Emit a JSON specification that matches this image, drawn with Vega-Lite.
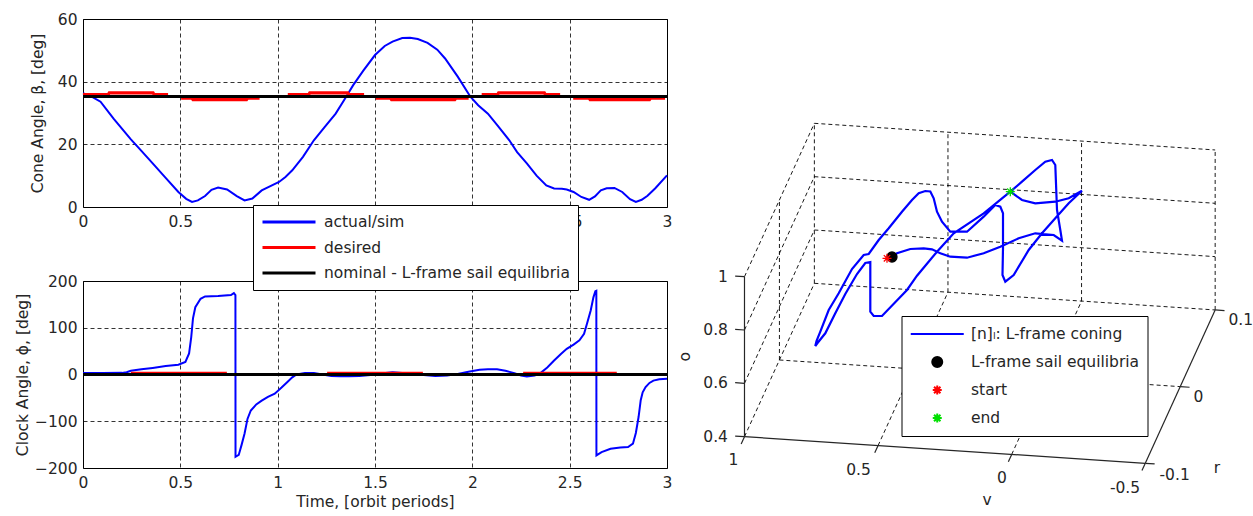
{
"$schema": "https://vega.github.io/schema/vega-lite/v6.json",
"background": "white",
"padding": {"left": 14, "top": 11, "right": 0, "bottom": 0},
"spacing": 3,
"config": {
  "font": "DejaVu Sans",
  "view": {"stroke": "black", "strokeWidth": 1},
  "axis": {"labelFontSize": 15.5, "labelColor": "#262626", "titleFontSize": 15.5, "titleFontWeight": "normal", "titleColor": "#262626", "grid": true, "gridColor": "#000000", "gridOpacity": 1, "gridDash": [4, 3], "gridWidth": 0.8, "domain": false, "ticks": false, "labelPadding": 7, "labelFlush": false, "labelOverlap": false, "labelBound": false},
  "axisY": {"labelPadding": 6},
  "legend": {"labelFontSize": 15.5, "labelColor": "#262626", "labelLimit": 500}
},
"datasets": {
  "beta": [
    {"t": 0, "b": 36.3, "s": "actual/sim"}, {"t": 0.04, "b": 35.4, "s": "actual/sim"}, {"t": 0.09, "b": 33.6, "s": "actual/sim"}, {"t": 0.157, "b": 28.2, "s": "actual/sim"}, {"t": 0.246, "b": 21.6, "s": "actual/sim"}, {"t": 0.3, "b": 17.9, "s": "actual/sim"}, {"t": 0.358, "b": 13.9, "s": "actual/sim"}, {"t": 0.42, "b": 9.6, "s": "actual/sim"}, {"t": 0.49, "b": 4.8, "s": "actual/sim"}, {"t": 0.53, "b": 2.6, "s": "actual/sim"}, {"t": 0.56, "b": 1.6, "s": "actual/sim"}, {"t": 0.59, "b": 2.1, "s": "actual/sim"}, {"t": 0.627, "b": 3.5, "s": "actual/sim"}, {"t": 0.66, "b": 5.5, "s": "actual/sim"}, {"t": 0.694, "b": 6.2, "s": "actual/sim"}, {"t": 0.74, "b": 5.6, "s": "actual/sim"}, {"t": 0.79, "b": 3.5, "s": "actual/sim"}, {"t": 0.83, "b": 2.1, "s": "actual/sim"}, {"t": 0.87, "b": 2.7, "s": "actual/sim"}, {"t": 0.918, "b": 5.3, "s": "actual/sim"}, {"t": 0.96, "b": 6.6, "s": "actual/sim"}, {"t": 1.007, "b": 8.0, "s": "actual/sim"}, {"t": 1.04, "b": 9.6, "s": "actual/sim"}, {"t": 1.075, "b": 11.7, "s": "actual/sim"}, {"t": 1.13, "b": 16.0, "s": "actual/sim"}, {"t": 1.186, "b": 21.3, "s": "actual/sim"}, {"t": 1.24, "b": 25.4, "s": "actual/sim"}, {"t": 1.298, "b": 29.8, "s": "actual/sim"}, {"t": 1.34, "b": 34.0, "s": "actual/sim"}, {"t": 1.388, "b": 38.9, "s": "actual/sim"}, {"t": 1.44, "b": 43.5, "s": "actual/sim"}, {"t": 1.5, "b": 48.5, "s": "actual/sim"}, {"t": 1.55, "b": 51.4, "s": "actual/sim"}, {"t": 1.59, "b": 52.8, "s": "actual/sim"}, {"t": 1.64, "b": 53.9, "s": "actual/sim"}, {"t": 1.68, "b": 54.0, "s": "actual/sim"}, {"t": 1.72, "b": 53.6, "s": "actual/sim"}, {"t": 1.77, "b": 52.4, "s": "actual/sim"}, {"t": 1.82, "b": 50.2, "s": "actual/sim"}, {"t": 1.86, "b": 47.4, "s": "actual/sim"}, {"t": 1.925, "b": 41.6, "s": "actual/sim"}, {"t": 1.99, "b": 35.2, "s": "actual/sim"}, {"t": 2.03, "b": 32.5, "s": "actual/sim"}, {"t": 2.08, "b": 29.8, "s": "actual/sim"}, {"t": 2.13, "b": 26.0, "s": "actual/sim"}, {"t": 2.19, "b": 21.3, "s": "actual/sim"}, {"t": 2.23, "b": 17.5, "s": "actual/sim"}, {"t": 2.28, "b": 13.9, "s": "actual/sim"}, {"t": 2.33, "b": 10.0, "s": "actual/sim"}, {"t": 2.38, "b": 6.9, "s": "actual/sim"}, {"t": 2.42, "b": 5.9, "s": "actual/sim"}, {"t": 2.46, "b": 5.8, "s": "actual/sim"}, {"t": 2.485, "b": 5.6, "s": "actual/sim"}, {"t": 2.52, "b": 4.8, "s": "actual/sim"}, {"t": 2.56, "b": 3.2, "s": "actual/sim"}, {"t": 2.6, "b": 2.3, "s": "actual/sim"}, {"t": 2.63, "b": 3.4, "s": "actual/sim"}, {"t": 2.66, "b": 5.3, "s": "actual/sim"}, {"t": 2.69, "b": 6.0, "s": "actual/sim"}, {"t": 2.73, "b": 6.1, "s": "actual/sim"}, {"t": 2.77, "b": 4.8, "s": "actual/sim"}, {"t": 2.81, "b": 2.5, "s": "actual/sim"}, {"t": 2.84, "b": 1.6, "s": "actual/sim"}, {"t": 2.87, "b": 2.3, "s": "actual/sim"}, {"t": 2.9, "b": 3.6, "s": "actual/sim"}, {"t": 2.94, "b": 6.0, "s": "actual/sim"}, {"t": 3.0, "b": 10.1, "s": "actual/sim"},
    {"t": 0, "b": 35.9, "s": "desired", "g": 1}, {"t": 0.13, "b": 35.9, "s": "desired", "g": 1}, {"t": 0.135, "b": 36.4, "s": "desired", "g": 1}, {"t": 0.36, "b": 36.4, "s": "desired", "g": 1}, {"t": 0.365, "b": 35.9, "s": "desired", "g": 1}, {"t": 0.437, "b": 35.9, "s": "desired", "g": 1},
    {"t": 0.504, "b": 34.7, "s": "desired", "g": 2}, {"t": 0.56, "b": 34.7, "s": "desired", "g": 2}, {"t": 0.565, "b": 34.3, "s": "desired", "g": 2}, {"t": 0.84, "b": 34.3, "s": "desired", "g": 2}, {"t": 0.845, "b": 34.7, "s": "desired", "g": 2}, {"t": 0.907, "b": 34.7, "s": "desired", "g": 2},
    {"t": 1.052, "b": 35.9, "s": "desired", "g": 3}, {"t": 1.16, "b": 35.9, "s": "desired", "g": 3}, {"t": 1.165, "b": 36.4, "s": "desired", "g": 3}, {"t": 1.36, "b": 36.4, "s": "desired", "g": 3}, {"t": 1.365, "b": 35.9, "s": "desired", "g": 3}, {"t": 1.444, "b": 35.9, "s": "desired", "g": 3},
    {"t": 1.504, "b": 34.7, "s": "desired", "g": 4}, {"t": 1.58, "b": 34.7, "s": "desired", "g": 4}, {"t": 1.585, "b": 34.3, "s": "desired", "g": 4}, {"t": 1.91, "b": 34.3, "s": "desired", "g": 4}, {"t": 1.915, "b": 34.7, "s": "desired", "g": 4}, {"t": 1.981, "b": 34.7, "s": "desired", "g": 4},
    {"t": 2.048, "b": 35.9, "s": "desired", "g": 5}, {"t": 2.13, "b": 35.9, "s": "desired", "g": 5}, {"t": 2.135, "b": 36.4, "s": "desired", "g": 5}, {"t": 2.37, "b": 36.4, "s": "desired", "g": 5}, {"t": 2.375, "b": 35.9, "s": "desired", "g": 5}, {"t": 2.451, "b": 35.9, "s": "desired", "g": 5},
    {"t": 2.518, "b": 34.7, "s": "desired", "g": 6}, {"t": 2.6, "b": 34.7, "s": "desired", "g": 6}, {"t": 2.605, "b": 34.3, "s": "desired", "g": 6}, {"t": 2.91, "b": 34.3, "s": "desired", "g": 6}, {"t": 2.915, "b": 34.7, "s": "desired", "g": 6}, {"t": 2.99, "b": 34.7, "s": "desired", "g": 6},
    {"t": 0, "b": 35.26, "s": "nominal - L-frame sail equilibria"}, {"t": 3, "b": 35.26, "s": "nominal - L-frame sail equilibria"}
  ],
  "phi": [
    {"t": 0, "p": 3, "s": "actual/sim"}, {"t": 0.1, "p": 3, "s": "actual/sim"}, {"t": 0.2, "p": 3.5, "s": "actual/sim"}, {"t": 0.224, "p": 5, "s": "actual/sim"}, {"t": 0.246, "p": 8, "s": "actual/sim"}, {"t": 0.3, "p": 11, "s": "actual/sim"}, {"t": 0.358, "p": 14, "s": "actual/sim"}, {"t": 0.425, "p": 18, "s": "actual/sim"}, {"t": 0.49, "p": 21, "s": "actual/sim"}, {"t": 0.526, "p": 27, "s": "actual/sim"}, {"t": 0.545, "p": 45, "s": "actual/sim"}, {"t": 0.556, "p": 80, "s": "actual/sim"}, {"t": 0.565, "p": 120, "s": "actual/sim"}, {"t": 0.577, "p": 144, "s": "actual/sim"}, {"t": 0.604, "p": 162, "s": "actual/sim"}, {"t": 0.627, "p": 167, "s": "actual/sim"}, {"t": 0.694, "p": 168, "s": "actual/sim"}, {"t": 0.76, "p": 170, "s": "actual/sim"}, {"t": 0.775, "p": 174, "s": "actual/sim"}, {"t": 0.783, "p": 170, "s": "actual/sim"}, {"t": 0.7835, "p": -176, "s": "actual/sim"}, {"t": 0.8, "p": -172, "s": "actual/sim"}, {"t": 0.815, "p": -150, "s": "actual/sim"}, {"t": 0.83, "p": -126, "s": "actual/sim"}, {"t": 0.845, "p": -95, "s": "actual/sim"}, {"t": 0.862, "p": -77, "s": "actual/sim"}, {"t": 0.89, "p": -64, "s": "actual/sim"}, {"t": 0.918, "p": -56, "s": "actual/sim"}, {"t": 0.95, "p": -48, "s": "actual/sim"}, {"t": 0.985, "p": -41, "s": "actual/sim"}, {"t": 1.02, "p": -28, "s": "actual/sim"}, {"t": 1.05, "p": -16, "s": "actual/sim"}, {"t": 1.075, "p": -6, "s": "actual/sim"}, {"t": 1.097, "p": 0, "s": "actual/sim"}, {"t": 1.14, "p": 3, "s": "actual/sim"}, {"t": 1.186, "p": 3, "s": "actual/sim"}, {"t": 1.23, "p": 0, "s": "actual/sim"}, {"t": 1.276, "p": -3, "s": "actual/sim"}, {"t": 1.32, "p": -4, "s": "actual/sim"}, {"t": 1.366, "p": -4, "s": "actual/sim"}, {"t": 1.42, "p": -3, "s": "actual/sim"}, {"t": 1.477, "p": -1, "s": "actual/sim"}, {"t": 1.53, "p": 2, "s": "actual/sim"}, {"t": 1.59, "p": 5, "s": "actual/sim"}, {"t": 1.64, "p": 3, "s": "actual/sim"}, {"t": 1.7, "p": 1, "s": "actual/sim"}, {"t": 1.75, "p": -1, "s": "actual/sim"}, {"t": 1.81, "p": -3, "s": "actual/sim"}, {"t": 1.87, "p": -2, "s": "actual/sim"}, {"t": 1.925, "p": 1, "s": "actual/sim"}, {"t": 1.98, "p": 6, "s": "actual/sim"}, {"t": 2.037, "p": 10, "s": "actual/sim"}, {"t": 2.08, "p": 11, "s": "actual/sim"}, {"t": 2.127, "p": 11, "s": "actual/sim"}, {"t": 2.17, "p": 8, "s": "actual/sim"}, {"t": 2.216, "p": 3, "s": "actual/sim"}, {"t": 2.25, "p": -2, "s": "actual/sim"}, {"t": 2.28, "p": -4, "s": "actual/sim"}, {"t": 2.32, "p": -2, "s": "actual/sim"}, {"t": 2.35, "p": 3, "s": "actual/sim"}, {"t": 2.385, "p": 15, "s": "actual/sim"}, {"t": 2.42, "p": 30, "s": "actual/sim"}, {"t": 2.455, "p": 44, "s": "actual/sim"}, {"t": 2.485, "p": 55, "s": "actual/sim"}, {"t": 2.52, "p": 64, "s": "actual/sim"}, {"t": 2.55, "p": 73, "s": "actual/sim"}, {"t": 2.574, "p": 87, "s": "actual/sim"}, {"t": 2.59, "p": 110, "s": "actual/sim"}, {"t": 2.608, "p": 137, "s": "actual/sim"}, {"t": 2.622, "p": 165, "s": "actual/sim"}, {"t": 2.632, "p": 178, "s": "actual/sim"}, {"t": 2.637, "p": 179, "s": "actual/sim"}, {"t": 2.6375, "p": -173, "s": "actual/sim"}, {"t": 2.664, "p": -166, "s": "actual/sim"}, {"t": 2.71, "p": -159, "s": "actual/sim"}, {"t": 2.76, "p": -156, "s": "actual/sim"}, {"t": 2.8, "p": -155, "s": "actual/sim"}, {"t": 2.825, "p": -148, "s": "actual/sim"}, {"t": 2.84, "p": -125, "s": "actual/sim"}, {"t": 2.854, "p": -91, "s": "actual/sim"}, {"t": 2.865, "p": -55, "s": "actual/sim"}, {"t": 2.875, "p": -38, "s": "actual/sim"}, {"t": 2.89, "p": -27, "s": "actual/sim"}, {"t": 2.91, "p": -18, "s": "actual/sim"}, {"t": 2.93, "p": -13, "s": "actual/sim"}, {"t": 2.96, "p": -10, "s": "actual/sim"}, {"t": 3.0, "p": -9, "s": "actual/sim"},
    {"t": 0.246, "p": 2.5, "s": "desired", "g": 1}, {"t": 0.739, "p": 2.5, "s": "desired", "g": 1},
    {"t": 1.254, "p": 2.5, "s": "desired", "g": 2}, {"t": 1.746, "p": 2.5, "s": "desired", "g": 2},
    {"t": 2.261, "p": 2.5, "s": "desired", "g": 3}, {"t": 2.742, "p": 2.5, "s": "desired", "g": 3},
    {"t": 0, "p": 0, "s": "nominal - L-frame sail equilibria"}, {"t": 3, "p": 0, "s": "nominal - L-frame sail equilibria"}
  ],
  "grid3d": [
    {"h": 0.262, "k": 0.975, "h2": 1.765, "k2": 0.8751}, {"h": 0.262, "k": 1.175, "h2": 1.765, "k2": 1.0751}, {"h": 0.262, "k": 1.375, "h2": 1.765, "k2": 1.2751}, {"h": 0.262, "k": 1.575, "h2": 1.765, "k2": 1.4751},
    {"h": 0.262, "k": 0.975, "h2": 0.262, "k2": 1.575}, {"h": 0.763, "k": 0.9417, "h2": 0.763, "k2": 1.5417}, {"h": 1.264, "k": 0.9084, "h2": 1.264, "k2": 1.5084}, {"h": 1.765, "k": 0.8751, "h2": 1.765, "k2": 1.4751},
    {"h": 0, "k": 0.6, "h2": 0.262, "k2": 1.175}, {"h": 0, "k": 0.8, "h2": 0.262, "k2": 1.375}, {"h": 0, "k": 1, "h2": 0.262, "k2": 1.575}, {"h": 0.131, "k": 0.6875, "h2": 0.131, "k2": 1.2875},
    {"h": 0, "k": 0.4, "h2": 0.262, "k2": 0.975}, {"h": 0.501, "k": 0.3667, "h2": 0.763, "k2": 0.9417}, {"h": 1.002, "k": 0.3334, "h2": 1.264, "k2": 0.9084}, {"h": 0.131, "k": 0.6875, "h2": 1.634, "k2": 0.5876}
  ],
  "axes3d": [
    {"h": 0, "k": 0.4, "h2": 0, "k2": 1}, {"h": 0, "k": 0.4, "h2": 1.503, "k2": 0.3001}, {"h": 1.503, "k": 0.3001, "h2": 1.765, "k2": 0.8751},
    {"h": 0, "k": 0.4, "h2": -0.035, "k2": 0.4023}, {"h": 0, "k": 0.6, "h2": -0.035, "k2": 0.6023}, {"h": 0, "k": 0.8, "h2": -0.035, "k2": 0.8023}, {"h": 0, "k": 1, "h2": -0.035, "k2": 1.0023},
    {"h": 0, "k": 0.4, "h2": -0.0125, "k2": 0.3727}, {"h": 0.501, "k": 0.3667, "h2": 0.4885, "k2": 0.3394}, {"h": 1.002, "k": 0.3334, "h2": 0.9895, "k2": 0.3061}, {"h": 1.503, "k": 0.3001, "h2": 1.4905, "k2": 0.2728},
    {"h": 1.503, "k": 0.3001, "h2": 1.538, "k2": 0.2978}, {"h": 1.634, "k": 0.5876, "h2": 1.669, "k2": 0.5853}, {"h": 1.765, "k": 0.8751, "h2": 1.8, "k2": 0.8728}
  ],
  "curve": [
    {"i": 1, "h": 0.5513, "k": 1.0737}, {"i": 2, "h": 0.5719, "k": 1.0876}, {"i": 3, "h": 0.6218, "k": 1.1037}, {"i": 4, "h": 0.672, "k": 1.1064}, {"i": 5, "h": 0.7031, "k": 1.1026}, {"i": 6, "h": 0.7343, "k": 1.0876}, {"i": 7, "h": 0.7718, "k": 1.0749}, {"i": 8, "h": 0.8344, "k": 1.0711}, {"i": 9, "h": 0.897, "k": 1.0876}, {"i": 10, "h": 0.9593, "k": 1.1124},
    {"i": 11, "h": 1.0283, "k": 1.1439}, {"i": 12, "h": 1.0905, "k": 1.1626}, {"i": 13, "h": 1.1595, "k": 1.1562}, {"i": 14, "h": 1.1906, "k": 1.1349}, {"i": 15, "h": 1.1843, "k": 1.175}, {"i": 16, "h": 1.1719, "k": 1.25}, {"i": 17, "h": 1.1681, "k": 1.3501}, {"i": 18, "h": 1.1655, "k": 1.4187}, {"i": 19, "h": 1.1531, "k": 1.4375}, {"i": 20, "h": 1.128, "k": 1.4311},
    {"i": 21, "h": 1.0905, "k": 1.4}, {"i": 22, "h": 1.0406, "k": 1.3561}, {"i": 23, "h": 0.9968, "k": 1.3186}, {"i": 24, "h": 0.897, "k": 1.2376}, {"i": 25, "h": 0.7845, "k": 1.1626}, {"i": 26, "h": 0.7219, "k": 1.0936}, {"i": 27, "h": 0.6469, "k": 1.0036}, {"i": 28, "h": 0.6094, "k": 0.95}, {"i": 29, "h": 0.5156, "k": 0.8525}, {"i": 30, "h": 0.4845, "k": 0.8525},
    {"i": 31, "h": 0.4718, "k": 0.8686}, {"i": 32, "h": 0.4718, "k": 1.055}, {"i": 33, "h": 0.453, "k": 1.0512}, {"i": 34, "h": 0.4219, "k": 1.01}, {"i": 35, "h": 0.378, "k": 0.935}, {"i": 36, "h": 0.3405, "k": 0.8626}, {"i": 37, "h": 0.303, "k": 0.7876}, {"i": 38, "h": 0.2738, "k": 0.7512}, {"i": 39, "h": 0.2655, "k": 0.74}, {"i": 40, "h": 0.27, "k": 0.7587},
    {"i": 41, "h": 0.2843, "k": 0.7936}, {"i": 42, "h": 0.3158, "k": 0.875}, {"i": 43, "h": 0.3533, "k": 0.9376}, {"i": 44, "h": 0.4031, "k": 1.0287}, {"i": 45, "h": 0.447, "k": 1.0812}, {"i": 46, "h": 0.4658, "k": 1.085}, {"i": 47, "h": 0.5033, "k": 1.1375}, {"i": 48, "h": 0.5408, "k": 1.1814}, {"i": 49, "h": 0.5906, "k": 1.2436}, {"i": 50, "h": 0.6281, "k": 1.2875},
    {"i": 51, "h": 0.6533, "k": 1.3126}, {"i": 52, "h": 0.678, "k": 1.3212}, {"i": 53, "h": 0.6968, "k": 1.3194}, {"i": 54, "h": 0.7095, "k": 1.2939}, {"i": 55, "h": 0.7219, "k": 1.2436}, {"i": 56, "h": 0.7406, "k": 1.2061}, {"i": 57, "h": 0.7718, "k": 1.1686}, {"i": 58, "h": 0.8344, "k": 1.1686}, {"i": 59, "h": 0.897, "k": 1.2249}, {"i": 60, "h": 0.9405, "k": 1.2687},
    {"i": 61, "h": 0.9593, "k": 1.2624}, {"i": 62, "h": 0.9694, "k": 1.2376}, {"i": 63, "h": 0.9694, "k": 1.1064}, {"i": 64, "h": 0.9675, "k": 1.0062}, {"i": 65, "h": 0.978, "k": 0.9811}, {"i": 66, "h": 1.0095, "k": 1.0062}, {"i": 67, "h": 1.0658, "k": 1.1}, {"i": 68, "h": 1.1156, "k": 1.1626}, {"i": 69, "h": 1.1655, "k": 1.2189}, {"i": 70, "h": 1.2158, "k": 1.2751},
    {"i": 71, "h": 1.2656, "k": 1.3224}, {"i": 72, "h": 1.2158, "k": 1.2939}, {"i": 73, "h": 1.1655, "k": 1.2811}, {"i": 74, "h": 1.0905, "k": 1.2751}, {"i": 75, "h": 1.0406, "k": 1.2875}, {"i": 76, "h": 0.9968, "k": 1.3186}
  ],
  "marks3d": [
    {"h": 0.5531, "k": 1.0737, "item": "L-frame sail equilibria"},
    {"h": 0.5344, "k": 1.0688, "item": "start"},
    {"h": 0.9968, "k": 1.3186, "item": "end"}
  ],
  "zlabels": [
    {"h": -0.062, "k": 1, "txt": "1"}, {"h": -0.062, "k": 0.8, "txt": "0.8"}, {"h": -0.062, "k": 0.6, "txt": "0.6"}, {"h": -0.062, "k": 0.4, "txt": "0.4"}
  ],
  "labels3d": [
    {"h": -0.041, "k": 0.3125, "txt": "1"}, {"h": 0.4275, "k": 0.275, "txt": "0.5"}, {"h": 0.965, "k": 0.2438, "txt": "0"}, {"h": 1.427, "k": 0.2063, "txt": "-0.5"}, {"h": 0.91, "k": 0.1625, "txt": "v"},
    {"h": 1.613, "k": 0.2562, "txt": "-0.1"}, {"h": 1.7025, "k": 0.55, "txt": "0"}, {"h": 1.861, "k": 0.8375, "txt": "0.1"}, {"h": 1.7715, "k": 0.2812, "txt": "r"}
  ],
  "otitle": [{"h": -0.223, "k": 0.7, "txt": "o"}]
},
"resolve": {
  "scale": {"color": "independent", "fill": "independent", "stroke": "independent", "shape": "independent"},
  "legend": {"color": "independent", "fill": "independent", "stroke": "independent", "shape": "independent"}
},
"hconcat": [
  {
    "spacing": 74,
    "bounds": "flush",
    "resolve": {"scale": {"color": "independent"}, "legend": {"color": "independent"}},
    "vconcat": [
      {
        "width": 584, "height": 188,
        "data": {"name": "beta"},
        "encoding": {
          "x": {"field": "t", "type": "quantitative", "scale": {"domain": [0, 3], "nice": false}, "axis": {"values": [0, 0.5, 1, 1.5, 2, 2.5, 3], "format": "~g", "title": null}},
          "y": {"field": "b", "type": "quantitative", "scale": {"domain": [0, 60], "nice": false}, "axis": {"values": [0, 20, 40, 60], "title": "Cone Angle, β, [deg]", "titleX": -46, "titleBaseline": "middle"}},
          "color": {"field": "s", "type": "nominal", "scale": {"domain": ["actual/sim", "desired", "nominal - L-frame sail equilibria"], "range": ["#0000ff", "#ff0000", "#000000"]}, "legend": null},
          "detail": {"field": "g"}
        },
        "layer": [
          {"transform": [{"filter": "datum.s === 'actual/sim'"}], "mark": {"type": "line", "strokeWidth": 2}},
          {"transform": [{"filter": "datum.s === 'desired'"}], "mark": {"type": "line", "strokeWidth": 3.2}},
          {"transform": [{"filter": "datum.s === 'nominal - L-frame sail equilibria'"}], "mark": {"type": "line", "strokeWidth": 3}}
        ]
      },
      {
        "width": 584, "height": 187,
        "data": {"name": "phi"},
        "encoding": {
          "x": {"field": "t", "type": "quantitative", "scale": {"domain": [0, 3], "nice": false}, "axis": {"values": [0, 0.5, 1, 1.5, 2, 2.5, 3], "format": "~g", "title": "Time, [orbit periods]", "titlePadding": 4}},
          "y": {"field": "p", "type": "quantitative", "scale": {"domain": [-200, 200], "nice": false}, "axis": {"values": [-200, -100, 0, 100, 200], "title": "Clock Angle, ϕ, [deg]", "titleX": -61, "titleBaseline": "middle"}},
          "color": {"field": "s", "type": "nominal", "scale": {"domain": ["actual/sim", "desired", "nominal - L-frame sail equilibria"], "range": ["#0000ff", "#ff0000", "#000000"]},
            "legend": {"orient": "none", "legendX": 170, "legendY": -76, "title": null, "fillColor": "white", "strokeColor": "black", "padding": 8, "symbolType": "stroke", "symbolSize": 2809, "symbolStrokeWidth": 3, "clipHeight": 18, "rowPadding": 7.5, "labelOffset": 7, "labelFontSize": 15.5, "labelLimit": 500}},
          "detail": {"field": "g"}
        },
        "layer": [
          {"transform": [{"filter": "datum.s === 'actual/sim'"}], "mark": {"type": "line", "strokeWidth": 2}},
          {"transform": [{"filter": "datum.s === 'desired'"}], "mark": {"type": "line", "strokeWidth": 3.2}},
          {"transform": [{"filter": "datum.s === 'nominal - L-frame sail equilibria'"}], "mark": {"type": "line", "strokeWidth": 3}}
        ]
      }
    ]
  },
  {
    "width": 578, "height": 497,
    "view": {"stroke": null},
    "encoding": {
      "x": {"field": "h", "type": "quantitative", "scale": {"domain": [-0.2531, 1.9144], "nice": false, "zero": false}, "axis": null},
      "y": {"field": "k", "type": "quantitative", "scale": {"domain": [0.1025, 1.9662], "nice": false, "zero": false}, "axis": null}
    },
    "layer": [
      {"data": {"name": "grid3d"}, "mark": {"type": "rule", "strokeDash": [4, 3], "color": "#000000", "strokeWidth": 0.9}, "encoding": {"x2": {"field": "h2"}, "y2": {"field": "k2"}}},
      {"data": {"name": "axes3d"}, "mark": {"type": "rule", "color": "#262626", "strokeWidth": 1.2}, "encoding": {"x2": {"field": "h2"}, "y2": {"field": "k2"}}},
      {"data": {"name": "curve"}, "mark": {"type": "line", "color": "#0000ff", "strokeWidth": 2.2}, "encoding": {"order": {"field": "i", "type": "quantitative"}}},
      {"data": {"name": "marks3d"}, "mark": {"type": "point", "filled": true, "size": 100, "strokeWidth": 1.3, "opacity": 1},
        "encoding": {
          "fill": {"field": "item", "type": "nominal", "scale": {"domain": ["[n]ₗ: L-frame coning", "L-frame sail equilibria", "start", "end"], "range": ["#0000ff", "#000000", "#ff0000", "#00e000"]},
            "legend": {"orient": "none", "legendX": 224.5, "legendY": 297, "title": null, "fillColor": "white", "strokeColor": "black", "padding": 8, "clipHeight": 20, "rowPadding": 8, "symbolOffset": 20, "labelOffset": 26, "symbolStrokeWidth": 2, "labelFontSize": 15.5, "labelLimit": 500}},
          "stroke": {"field": "item", "type": "nominal", "scale": {"domain": ["[n]ₗ: L-frame coning", "L-frame sail equilibria", "start", "end"], "range": ["#0000ff", "#000000", "#ff0000", "#00e000"]},
            "legend": {"orient": "none", "legendX": 224.5, "legendY": 297, "title": null, "fillColor": "white", "strokeColor": "black", "padding": 8, "clipHeight": 20, "rowPadding": 8, "symbolOffset": 20, "labelOffset": 26, "symbolStrokeWidth": 2, "labelFontSize": 15.5, "labelLimit": 500}},
          "shape": {"field": "item", "type": "nominal", "scale": {"domain": ["[n]ₗ: L-frame coning", "L-frame sail equilibria", "start", "end"], "range": ["M-5.3,0H5.3", "circle", "M-0.9,0H0.9M0,-0.9V0.9M-0.64,-0.64L0.64,0.64M-0.64,0.64L0.64,-0.64", "M-0.9,0H0.9M0,-0.9V0.9M-0.64,-0.64L0.64,0.64M-0.64,0.64L0.64,-0.64"]},
            "legend": {"orient": "none", "legendX": 224.5, "legendY": 297, "title": null, "fillColor": "white", "strokeColor": "black", "padding": 8, "clipHeight": 20, "rowPadding": 8, "symbolOffset": 20, "labelOffset": 26, "symbolStrokeWidth": 2, "labelFontSize": 15.5, "labelLimit": 500}}
        }
      },
      {"data": {"name": "zlabels"}, "mark": {"type": "text", "align": "right", "baseline": "middle", "fontSize": 15.5, "color": "#262626"}, "encoding": {"text": {"field": "txt"}}},
      {"data": {"name": "labels3d"}, "mark": {"type": "text", "align": "center", "baseline": "middle", "fontSize": 15.5, "color": "#262626"}, "encoding": {"text": {"field": "txt"}}},
      {"data": {"name": "otitle"}, "mark": {"type": "text", "align": "center", "baseline": "middle", "angle": 270, "fontSize": 15.5, "color": "#262626"}, "encoding": {"text": {"field": "txt"}}}
    ]
  }
]
}
